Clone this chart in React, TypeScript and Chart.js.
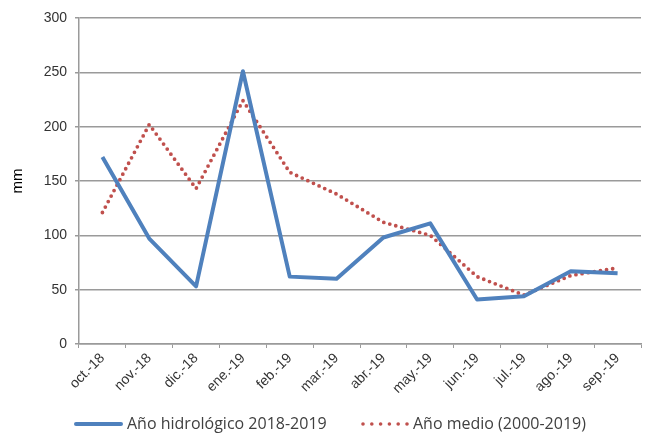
import React, { useEffect, useRef } from "react";
import { Chart, registerables } from "chart.js";

Chart.register(...registerables);

const categories = ["oct.-18", "nov.-18", "dic.-18", "ene.-19", "feb.-19", "mar.-19", "abr.-19", "may.-19", "jun.-19", "jul.-19", "ago.-19", "sep.-19"];
const hidrologico = [172, 97, 53, 251, 62, 60, 98, 111, 41, 44, 67, 65];
const medio = [121, 202, 143, 224, 158, 138, 112, 100, 62, 45, 63, 70];
const yTicks = [0, 50, 100, 150, 200, 250, 300];
const seriesNames = ["Año hidrológico 2018-2019", "Año medio (2000-2019)"];

const BLUE = "#4F81BD";
const RED = "#C0504D";
const TEXT = "#404040";
const GRID = "#9a9a9a";
const FONT = "'Liberation Sans', Arial, sans-serif";

const legendPlugin = {
  id: "customLegend",
  afterDraw(chart: any) {
    const ctx = chart.ctx;
    ctx.save();
    const y = 424;
    ctx.strokeStyle = BLUE;
    ctx.lineWidth = 4;
    ctx.lineCap = "round";
    ctx.beginPath();
    ctx.moveTo(76, y);
    ctx.lineTo(121, y);
    ctx.stroke();
    ctx.fillStyle = RED;
    for (let i = 0; i < 6; i++) {
      ctx.beginPath();
      ctx.arc(363 + i * 8.8, y, 1.8, 0, Math.PI * 2);
      ctx.fill();
    }
    ctx.fillStyle = TEXT;
    ctx.font = "16px 'Open Sans', 'Liberation Sans', sans-serif";
    ctx.textBaseline = "middle";
    ctx.textAlign = "left";
    ctx.fillText(seriesNames[0], 127, y);
    ctx.fillText(seriesNames[1], 413, y);
    ctx.restore();
  },
};

export default function App() {
  const ref = useRef<HTMLCanvasElement>(null);
  useEffect(() => {
    if (!ref.current) return;
    const chart = new Chart(ref.current, {
      type: "line",
      data: {
        labels: categories,
        datasets: [
          {
            label: seriesNames[0],
            data: hidrologico,
            borderColor: BLUE,
            backgroundColor: BLUE,
            borderWidth: 4,
            pointRadius: 0,
            tension: 0,
            borderJoinStyle: "round",
          },
          {
            label: seriesNames[1],
            data: medio,
            borderColor: RED,
            backgroundColor: RED,
            borderWidth: 3.8,
            borderDash: [0, 6.2],
            borderCapStyle: "round",
            pointRadius: 0,
            tension: 0,
          },
        ],
      },
      options: {
        animation: false,
        responsive: false,
        maintainAspectRatio: false,
        layout: { padding: { top: 18, right: 8, left: 0, bottom: 0 } },
        plugins: { legend: { display: false }, tooltip: { enabled: false } },
        scales: {
          x: {
            offset: true,
            grid: {
              offset: true,
              drawOnChartArea: false,
              drawTicks: true,
              tickLength: 4,
              color: GRID,
            },
            border: { color: GRID, width: 1.5 },
            ticks: {
              color: "#333",
              font: { family: FONT, size: 14 },
              maxRotation: 45,
              minRotation: 45,
              autoSkip: false,
              padding: 2,
            },
            afterFit(scale: any) {
              scale.height = 90;
            },
          },
          y: {
            min: 0,
            max: 300,
            afterBuildTicks(scale: any) {
              scale.ticks = yTicks.map((v) => ({ value: v }));
            },
            grid: { color: GRID, lineWidth: 1.5, tickLength: 4 },
            border: { color: GRID, width: 1.5 },
            ticks: {
              color: "#333",
              font: { family: FONT, size: 14 },
              padding: 8,
            },
            title: {
              display: true,
              text: "mm",
              color: "#000",
              font: { family: FONT, size: 15 },
              padding: { top: 9, bottom: 0 },
            },
            afterFit(scale: any) {
              scale.width = 79;
            },
          },
        },
      },
      plugins: [legendPlugin],
    });
    return () => chart.destroy();
  }, []);
  return (
    <div style={{ position: "fixed", left: 0, top: 0, width: 649, height: 434, background: "#fff" }}>
      <canvas ref={ref} width={649} height={434} style={{ width: 649, height: 434 }} />
    </div>
  );
}
